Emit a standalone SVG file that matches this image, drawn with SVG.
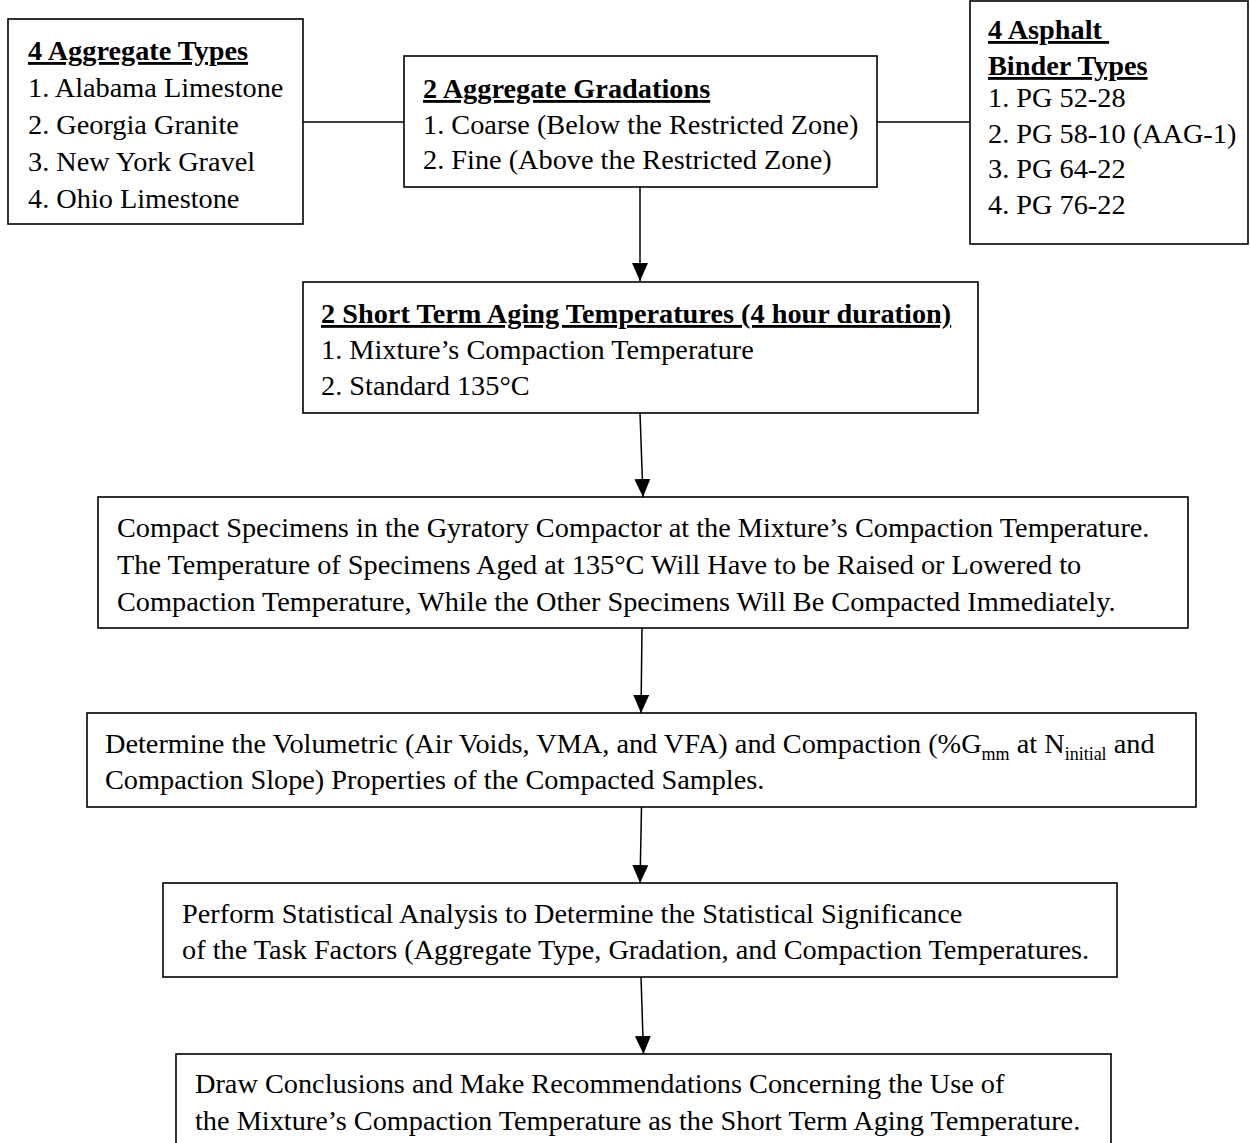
<svg xmlns="http://www.w3.org/2000/svg" width="1250" height="1143" viewBox="0 0 1250 1143">
<defs>
<style>
.box{fill:#fff;stroke:#000;stroke-width:1.6}
text{font-family:"Liberation Serif","Times New Roman",serif;font-size:28.3px;fill:#000}
.h{font-weight:bold;text-decoration:underline;text-decoration-skip-ink:none;text-decoration-thickness:2px;white-space:pre}
.sub{font-size:18px}
.con{stroke:#000;stroke-width:1.5;fill:none}
</style>
<marker id="arr" markerUnits="userSpaceOnUse" markerWidth="18" markerHeight="20" viewBox="0 0 18 20" refX="18" refY="8" orient="auto">
<path d="M0,0 L18,8 L0,16 Z" fill="#000"/>
</marker>
</defs>
<g id="connectors">
<line class="con" x1="303" y1="122" x2="404" y2="122"/>
<line class="con" x1="877" y1="122" x2="970" y2="122"/>
<line class="con" x1="640" y1="187" x2="640" y2="281" marker-end="url(#arr)"/>
<line class="con" x1="640" y1="413" x2="643" y2="497" marker-end="url(#arr)"/>
<line class="con" x1="642" y1="628" x2="641" y2="713" marker-end="url(#arr)"/>
<line class="con" x1="641.5" y1="807" x2="640" y2="883" marker-end="url(#arr)"/>
<line class="con" x1="641" y1="977" x2="643.5" y2="1054" marker-end="url(#arr)"/>
</g>
<g id="aggregate-types">
<rect class="box" x="8" y="19" width="295" height="205"/>
<text class="h" x="28" y="60">4 Aggregate Types</text>
<text x="28" y="97">1. Alabama Limestone</text>
<text x="28" y="134">2. Georgia Granite</text>
<text x="28" y="171">3. New York Gravel</text>
<text x="28" y="208">4. Ohio Limestone</text>
</g>
<g id="gradations">
<rect class="box" x="404" y="56" width="473" height="131"/>
<text class="h" x="423" y="98">2 Aggregate Gradations</text>
<text x="423" y="134">1. Coarse (Below the Restricted Zone)</text>
<text x="423" y="169">2. Fine (Above the Restricted Zone)</text>
</g>
<g id="binder-types">
<rect class="box" x="970" y="1" width="278" height="243"/>
<text class="h" x="988" y="39">4 Asphalt </text>
<text class="h" x="988" y="75">Binder Types</text>
<text x="988" y="107">1. PG 52-28</text>
<text x="988" y="143">2. PG 58-10 (AAG-1)</text>
<text x="988" y="178">3. PG 64-22</text>
<text x="988" y="214">4. PG 76-22</text>
</g>
<g id="aging-temperatures">
<rect class="box" x="303" y="282" width="675" height="131"/>
<text class="h" x="321" y="323">2 Short Term Aging Temperatures (4 hour duration)</text>
<text x="321" y="359">1. Mixture’s Compaction Temperature</text>
<text x="321" y="395">2. Standard 135°C</text>
</g>
<g id="compact-specimens">
<rect class="box" x="98" y="497" width="1090" height="131"/>
<text x="117" y="537">Compact Specimens in the Gyratory Compactor at the Mixture’s Compaction Temperature.</text>
<text x="117" y="574">The Temperature of Specimens Aged at 135°C Will Have to be Raised or Lowered to</text>
<text x="117" y="611">Compaction Temperature, While the Other Specimens Will Be Compacted Immediately.</text>
</g>
<g id="determine-properties">
<rect class="box" x="87" y="713" width="1109" height="94"/>
<text x="105" y="753">Determine the Volumetric (Air Voids, VMA, and VFA) and Compaction (%G<tspan class="sub" dy="7">mm</tspan><tspan dy="-7"> at N</tspan><tspan class="sub" dy="7">initial</tspan><tspan dy="-7"> and</tspan></text>
<text x="105" y="789">Compaction Slope) Properties of the Compacted Samples.</text>
</g>
<g id="statistical-analysis">
<rect class="box" x="163" y="883" width="954" height="94"/>
<text x="182" y="923">Perform Statistical Analysis to Determine the Statistical Significance</text>
<text x="182" y="959">of the Task Factors (Aggregate Type, Gradation, and Compaction Temperatures.</text>
</g>
<g id="conclusions">
<rect class="box" x="176" y="1054" width="935" height="110"/>
<text x="195" y="1093">Draw Conclusions and Make Recommendations Concerning the Use of</text>
<text x="195" y="1130">the Mixture’s Compaction Temperature as the Short Term Aging Temperature.</text>
</g>
</svg>
